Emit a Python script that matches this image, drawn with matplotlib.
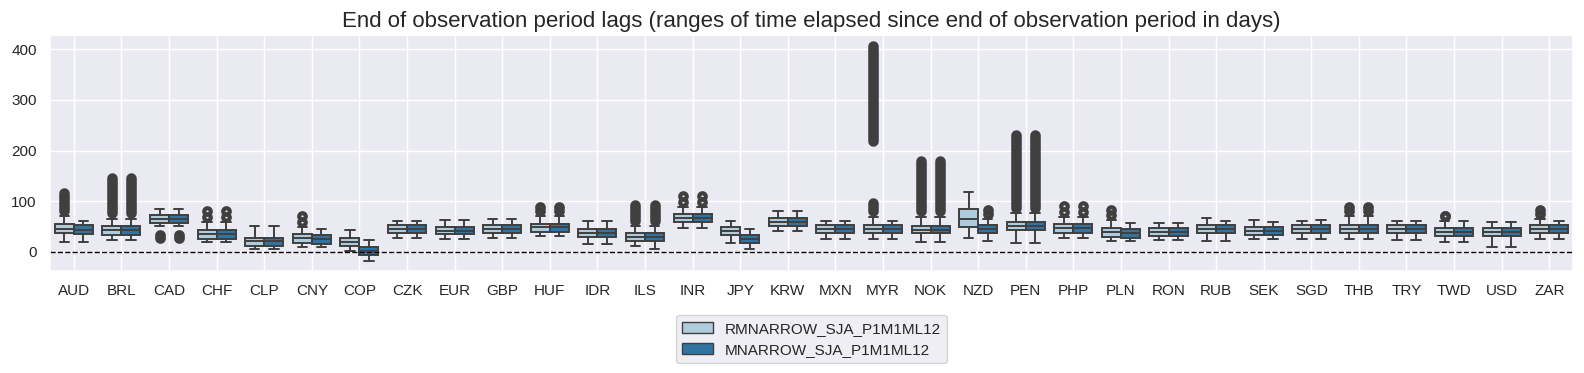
import numpy as np
import matplotlib
matplotlib.use("Agg")
import matplotlib.pyplot as plt
from matplotlib.patches import Patch
import seaborn as sns

CCY = ["AUD", "BRL", "CAD", "CHF", "CLP", "CNY", "COP", "CZK", "EUR", "GBP", "HUF",
       "IDR", "ILS", "INR", "JPY", "KRW", "MXN", "MYR", "NOK", "NZD", "PEN", "PHP",
       "PLN", "RON", "RUB", "SEK", "SGD", "THB", "TRY", "TWD", "USD", "ZAR"]
SERIES = ["RMNARROW_SJA_P1M1ML12", "MNARROW_SJA_P1M1ML12"]

# RMNARROW: q1, median, q3, lower whisker, upper whisker (days)
R_Q1  = [36.8, 34.2, 56.6, 26.3, 12.5, 18.4, 11.2, 36.8, 34.9, 36.8, 40.0,
         29.0, 21.7, 58.6, 32.9, 52.0, 36.8, 36.8, 36.8, 48.7, 42.8, 38.2,
         30.3, 32.2, 36.8, 34.2, 36.8, 36.8, 36.8, 30.9, 30.9, 36.8]
R_MED = [46.0, 42.8, 64.5, 34.9, 21.0, 27.0, 19.0, 45.4, 42.0, 45.4, 48.7,
         37.5, 29.6, 67.0, 40.8, 59.2, 44.7, 44.7, 44.0, 64.5, 51.3, 46.7,
         38.8, 39.5, 44.7, 41.4, 44.7, 44.7, 44.7, 38.8, 38.8, 44.7]
R_Q3  = [54.6, 51.3, 73.0, 42.8, 28.3, 34.9, 27.0, 53.3, 48.7, 53.3, 55.3,
         45.4, 37.5, 75.7, 48.7, 66.4, 52.6, 52.6, 51.3, 84.2, 59.9, 55.3,
         46.7, 46.7, 52.6, 48.7, 52.6, 52.6, 52.6, 46.7, 46.7, 52.6]
R_LO  = [19.0, 23.7, 52.0, 19.0, 5.3, 9.2, 2.0, 27.0, 25.0, 27.0, 31.0,
         15.8, 12.5, 46.7, 17.8, 40.8, 25.0, 25.0, 19.0, 27.0, 17.8, 27.0,
         21.0, 23.0, 21.0, 25.0, 25.0, 25.0, 23.0, 19.0, 9.2, 25.0]
R_HI  = [70.0, 65.0, 85.5, 60.0, 51.3, 50.0, 42.8, 60.5, 62.5, 64.5, 70.0,
         61.2, 51.0, 89.0, 60.5, 80.3, 60.5, 69.0, 69.0, 117.8, 76.0, 69.0,
         63.0, 56.6, 66.4, 62.5, 60.5, 70.0, 60.5, 62.0, 58.6, 65.0]
# outlier runs (first, last) per currency
R_FLIERS = [[(81, 117)], [(76, 146)], [(27, 33)], [(69, 80)], [], [(60, 71.5)], [],
            [], [], [], [(81, 89)], [], [(61, 92.6)], [(99.5, 111)], [], [], [],
            [(80, 97), (218, 407)], [(80, 180)], [], [(86, 230)], [(79.7, 90.6)],
            [(73, 82)], [], [], [], [], [(81, 89.3)], [], [(71.7, 71.7)], [],
            [(75, 83.4)]]

# MNARROW
M_Q1  = [36.2, 34.2, 56.6, 26.3, 12.5, 16.4, -6.6, 36.8, 34.9, 36.8, 40.0,
         29.0, 21.7, 58.6, 17.1, 52.0, 36.8, 36.8, 36.8, 36.8, 42.8, 38.2,
         28.3, 32.2, 36.8, 34.2, 36.8, 36.8, 36.8, 30.9, 30.9, 36.8]
M_MED = [44.0, 42.8, 64.5, 34.9, 21.0, 25.0, 1.3, 45.4, 42.0, 45.4, 48.7,
         37.5, 29.6, 67.0, 25.0, 59.2, 44.7, 44.7, 44.0, 44.7, 51.3, 46.7,
         36.8, 39.5, 44.7, 41.4, 44.7, 44.7, 44.7, 38.8, 38.8, 44.7]
M_Q3  = [52.6, 51.3, 73.0, 42.8, 28.3, 32.9, 9.2, 53.3, 48.7, 53.3, 55.3,
         45.4, 37.5, 75.7, 32.9, 66.4, 52.6, 52.6, 51.3, 52.6, 59.9, 55.3,
         44.7, 46.7, 52.6, 48.7, 52.6, 52.6, 52.6, 46.7, 46.7, 52.6]
M_LO  = [19.0, 23.7, 52.0, 19.0, 5.3, 9.2, -17.8, 27.0, 25.0, 27.0, 31.0,
         15.8, 6.6, 46.7, 6.6, 40.8, 25.0, 25.0, 19.0, 21.0, 17.8, 27.0,
         21.0, 23.0, 21.0, 25.0, 25.0, 25.0, 23.0, 19.0, 9.2, 25.0]
M_HI  = [60.5, 65.0, 85.5, 60.0, 51.3, 44.7, 23.0, 60.5, 62.5, 64.5, 70.0,
         61.2, 51.0, 89.0, 44.7, 80.3, 60.5, 60.5, 69.0, 65.0, 76.0, 69.0,
         56.6, 56.6, 60.5, 58.6, 62.5, 70.0, 60.5, 60.5, 58.6, 60.5]
M_FLIERS = [[], [(76, 146)], [(27, 33)], [(69, 80)], [], [], [],
            [], [], [], [(81, 89)], [], [(61, 92.6)], [(99.5, 111)], [], [], [],
            [], [(80, 180)], [(75, 83.4)], [(86, 230)], [(79.7, 90.6)],
            [], [], [], [], [], [(81, 89.3)], [], [], [], []]

sns.set_theme(style="darkgrid")
plt.rcParams["font.family"] = ["Liberation Sans", "DejaVu Sans"]
pal = [sns.desaturate(c, 0.75) for c in sns.color_palette("Paired", 2)]
GRAY = "#3f3f3f"

fig = plt.figure(figsize=(15.84, 3.73), dpi=100)
ax = fig.add_axes([0.0316, 0.273, 0.9615, 0.633])

x = np.arange(len(CCY))
groups = [(R_Q1, R_MED, R_Q3, R_LO, R_HI, R_FLIERS, -0.2),
          (M_Q1, M_MED, M_Q3, M_LO, M_HI, M_FLIERS, 0.2)]

for k, (q1, med, q3, lo, hi, fl, off) in enumerate(groups):
    stats = [dict(q1=a, med=b, q3=c, whislo=d, whishi=e, fliers=[])
             for a, b, c, d, e in zip(q1, med, q3, lo, hi)]
    ax.bxp(stats, positions=x + off, widths=0.4, capwidths=0.2, patch_artist=True,
           showfliers=False, manage_ticks=False,
           boxprops=dict(facecolor=pal[k], edgecolor=GRAY, linewidth=1.4),
           medianprops=dict(color=GRAY, linewidth=1.4),
           whiskerprops=dict(color=GRAY, linewidth=1.4),
           capprops=dict(color=GRAY, linewidth=1.4))
    # outliers: long dense runs drawn as a thick capsule, short ones as thick rings
    for xi, runs in zip(x + off, fl):
        for a, b in runs:
            if b - a >= 15:
                ax.plot([xi, xi], [a, b], color=GRAY, lw=7.6,
                        solid_capstyle="round", zorder=3)
            else:
                ax.plot([xi, xi], [a, b], "o", ls="none", mfc="none", mec=GRAY,
                        ms=4.7, mew=3.0, zorder=3)

ax.axhline(0, color="black", ls="--", lw=1)
ax.set_xticks(x)
ax.set_xticklabels(CCY)
ax.set_xlim(-0.5, len(CCY) - 0.5)
ax.set_ylim(-38, 428)
ax.set_yticks([0, 100, 200, 300, 400])
ax.set_title("End of observation period lags (ranges of time elapsed since end of observation period in days)",
             fontsize=16)

handles = [Patch(facecolor=pal[i], edgecolor=GRAY, linewidth=1.0) for i in range(2)]
ax.legend(handles, SERIES, loc="upper center", bbox_to_anchor=(0.5, -0.155), ncol=1)

fig.savefig("out.png", dpi=100)
